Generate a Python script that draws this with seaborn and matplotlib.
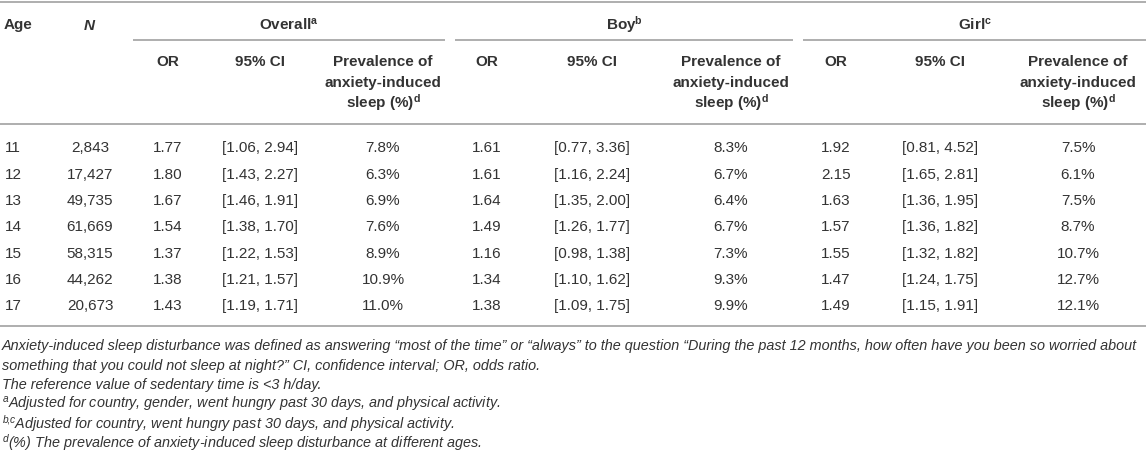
import seaborn as sns
import matplotlib.pyplot as plt

# table values
ages = [11, 12, 13, 14, 15, 16, 17]
n_obs = ["2,843", "17,427", "49,735", "61,669", "58,315", "44,262", "20,673"]

overall_or = ["1.77", "1.80", "1.67", "1.54", "1.37", "1.38", "1.43"]
overall_ci = ["[1.06, 2.94]", "[1.43, 2.27]", "[1.46, 1.91]", "[1.38, 1.70]",
              "[1.22, 1.53]", "[1.21, 1.57]", "[1.19, 1.71]"]
overall_prev = ["7.8%", "6.3%", "6.9%", "7.6%", "8.9%", "10.9%", "11.0%"]

boy_or = ["1.61", "1.61", "1.64", "1.49", "1.16", "1.34", "1.38"]
boy_ci = ["[0.77, 3.36]", "[1.16, 2.24]", "[1.35, 2.00]", "[1.26, 1.77]",
          "[0.98, 1.38]", "[1.10, 1.62]", "[1.09, 1.75]"]
boy_prev = ["8.3%", "6.7%", "6.4%", "6.7%", "7.3%", "9.3%", "9.9%"]

girl_or = ["1.92", "2.15", "1.63", "1.57", "1.55", "1.47", "1.49"]
girl_ci = ["[0.81, 4.52]", "[1.65, 2.81]", "[1.36, 1.95]", "[1.36, 1.82]",
           "[1.32, 1.82]", "[1.24, 1.75]", "[1.15, 1.91]"]
girl_prev = ["7.5%", "6.1%", "7.5%", "8.7%", "10.7%", "12.7%", "12.1%"]

groups = ["Overall", "Boy", "Girl"]
group_marks = ["a", "b", "c"]
sub_headers = ["OR", "95% CI"]
prev_header = ["Prevalence of", "anxiety-induced", "sleep (%)"]

footnotes = [
    "Anxiety-induced sleep disturbance was defined as answering \u201cmost of the time\u201d or \u201calways\u201d "
    "to the question \u201cDuring the past 12 months, how often have you been so worried about",
    "something that you could not sleep at night?\u201d CI, confidence interval; OR, odds ratio.",
    "The reference value of sedentary time is <3 h/day.",
    r"$^{a}$Adjusted for country, gender, went hungry past 30 days, and physical activity.",
    r"$^{b\!,\!c}$Adjusted for country, went hungry past 30 days, and physical activity.",
    r"$^{d}$(%) The prevalence of anxiety-induced sleep disturbance at different ages.",
]

sns.set_theme(style="white")
plt.rcParams["font.family"] = ["Liberation Sans", "DejaVu Sans"]
plt.rcParams["mathtext.fontset"] = "custom"
plt.rcParams["mathtext.rm"] = "Liberation Sans"
plt.rcParams["mathtext.it"] = "Liberation Sans:italic"
plt.rcParams["mathtext.bf"] = "Liberation Sans:bold"

W, H = 1146, 456
fig = plt.figure(figsize=(W / 100, H / 100), dpi=100)
ax = fig.add_axes([0, 0, 1, 1])
ax.set_xlim(0, W)
ax.set_ylim(H, 0)
ax.axis("off")

txt = "#333333"
rule = "#a8a8a8"
fs = 11
base = 5.5  # cap height / 2, so y values are visual centres

# layout
group_spans = [(133, 445), (455, 793), (803, W)]
col_x = [[168, 260, 383], [487, 592, 731], [836, 940, 1078]]
row_y0, row_step = 147, 26.3

# rules
ax.hlines([3, 125, 327], 0, W, color=rule, lw=1.3)
for x0, x1 in group_spans:
    ax.hlines(41, x0, x1, color=rule, lw=1.3)

# header
ax.text(4, 24 + base, "Age", fontsize=fs, weight="bold", color=txt, va="baseline")
ax.text(89, 24 + base, "N", fontsize=fs, weight="bold", style="italic", color=txt,
        va="baseline", ha="center")
for (x0, x1), g, m, cols in zip(group_spans, groups, group_marks, col_x):
    ax.text((x0 + x1) / 2, 24 + base, g + r"$^{\mathbf{%s}}$" % m, fontsize=fs,
            weight="bold", color=txt, va="baseline", ha="center")
    for x, s in zip(cols[:2], sub_headers):
        ax.text(x, 61 + base, s, fontsize=fs, weight="bold", color=txt,
                va="baseline", ha="center")
    for k, (ly, s) in enumerate(zip([61, 82, 102], prev_header)):
        if k == 2:
            s = s + r"$^{\mathbf{d}}$"
        ax.text(cols[2], ly + base, s, fontsize=fs, weight="bold", color=txt,
                va="baseline", ha="center")

# body
series = [(overall_or, overall_ci, overall_prev),
          (boy_or, boy_ci, boy_prev),
          (girl_or, girl_ci, girl_prev)]
for i, age in enumerate(ages):
    y = row_y0 + i * row_step + base
    ax.text(5, y, str(age), fontsize=fs, color=txt, va="baseline")
    ax.text(90, y, n_obs[i], fontsize=fs, color=txt, va="baseline", ha="center")
    for cols, vals in zip(col_x, series):
        for x, v in zip(cols, vals):
            ax.text(x, y, v[i], fontsize=fs, color=txt, va="baseline", ha="center")

# footnotes, size fitted so the first line spans the width
fig.canvas.draw()
renderer = fig.canvas.get_renderer()
probe = ax.text(2, 0, footnotes[0], fontsize=10, style="italic")
wpx = probe.get_window_extent(renderer).width
probe.remove()
fn_size = 10 * 1139 / wpx
for k, s in enumerate(footnotes):
    ax.text(2, 345 + k * 19.6 + 5, s, fontsize=fn_size, style="italic", color=txt,
            va="baseline")

plt.savefig("out.png", dpi=100)
